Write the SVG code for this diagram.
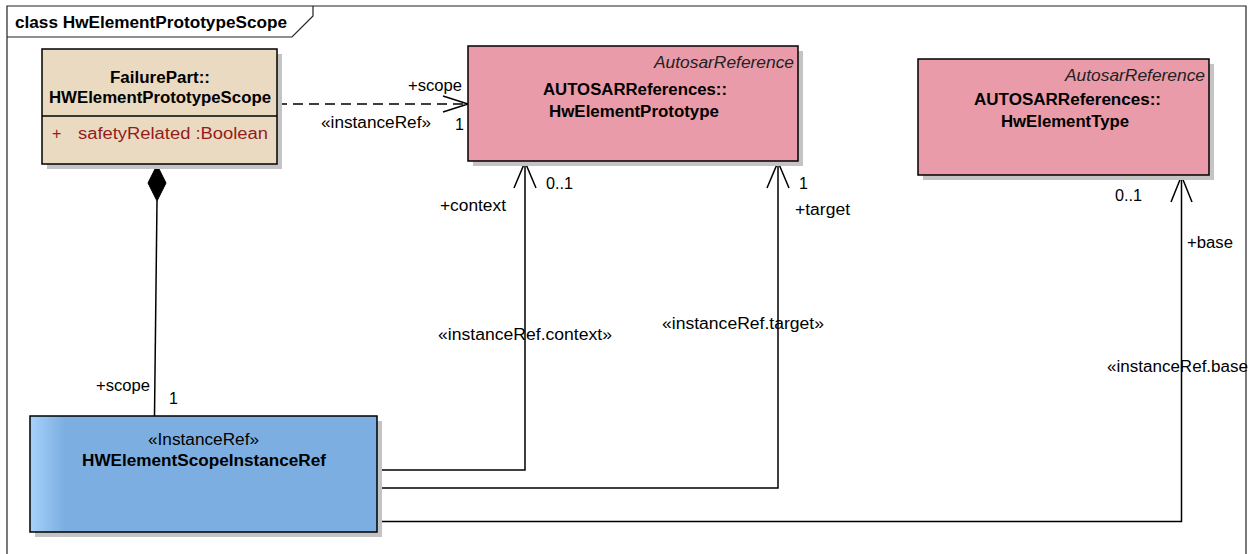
<svg xmlns="http://www.w3.org/2000/svg" width="1254" height="554" viewBox="0 0 1254 554">
<defs>
<style>
text{font-family:"Liberation Sans",Arial,sans-serif;font-size:16px;fill:#000}
.b{font-weight:bold}
.i{font-style:italic;fill:#222}
.attr{fill:#951c1c}
.box{stroke:#000;stroke-width:1.5}
.sh{fill:#c4c4c4}
.ln{fill:none;stroke:#000;stroke-width:1.5}
.frame{fill:none;stroke:#222;stroke-width:1.2}
</style>
<linearGradient id="blueG" x1="0" y1="0" x2="1" y2="0">
<stop offset="0" stop-color="#a6d2fb"/>
<stop offset="0.1" stop-color="#7caee1"/>
<stop offset="1" stop-color="#7caee1"/>
</linearGradient>
</defs>
<rect width="1254" height="554" fill="#fff"/>
<g id="frame">
<path class="frame" d="M7,560 V6 H1246 V560"/>
<path class="frame" d="M7,37 H292 L313,16 V6"/>
<text class="b" x="15" y="28" textLength="272" lengthAdjust="spacingAndGlyphs">class HwElementPrototypeScope</text>
</g>
<g id="connectors">
<line class="ln" x1="277" y1="104" x2="467" y2="104" stroke-dasharray="10,6"/>
<polyline class="ln" points="443,96 468,104 443,112"/>
<polygon points="157,165 148,183 157,201 166,183" fill="#000" stroke="#000"/>
<line class="ln" x1="157" y1="201" x2="154.5" y2="416"/>
<path class="ln" d="M377,470 H525 V162"/>
<polyline class="ln" points="514,188 525,162 536,188"/>
<path class="ln" d="M377,488 H778 V162"/>
<polyline class="ln" points="767,188 778,162 789,188"/>
<path class="ln" d="M377,521.5 H1181.5 V176"/>
<polyline class="ln" points="1171,202 1181.5,176 1192,202"/>
<text x="408" y="91" textLength="54" lengthAdjust="spacingAndGlyphs">+scope</text>
<text x="321" y="128" textLength="110" lengthAdjust="spacingAndGlyphs">«instanceRef»</text>
<text x="455" y="130">1</text>
<text x="546" y="189" textLength="27" lengthAdjust="spacingAndGlyphs">0..1</text>
<text x="440" y="211" textLength="66" lengthAdjust="spacingAndGlyphs">+context</text>
<text x="799" y="189">1</text>
<text x="795" y="215" textLength="55" lengthAdjust="spacingAndGlyphs">+target</text>
<text x="1115" y="201" textLength="27" lengthAdjust="spacingAndGlyphs">0..1</text>
<text x="1187" y="248" textLength="46" lengthAdjust="spacingAndGlyphs">+base</text>
<text x="438" y="340" textLength="174" lengthAdjust="spacingAndGlyphs">«instanceRef.context»</text>
<text x="662" y="329" textLength="162" lengthAdjust="spacingAndGlyphs">«instanceRef.target»</text>
<text x="1107" y="372" textLength="141" lengthAdjust="spacingAndGlyphs">«instanceRef.base</text>
<text x="96" y="391" textLength="54" lengthAdjust="spacingAndGlyphs">+scope</text>
<text x="169" y="404">1</text>
</g>
<g id="FailurePart">
<rect class="sh" x="47" y="54" width="235" height="115"/>
<rect class="box" x="42" y="49" width="235" height="115" fill="#e9dac1"/>
<line class="box" x1="42" y1="116" x2="277" y2="116"/>
<text class="b" x="110" y="83" textLength="100" lengthAdjust="spacingAndGlyphs">FailurePart::</text>
<text class="b" x="49" y="103" textLength="222" lengthAdjust="spacingAndGlyphs">HWElementPrototypeScope</text>
<text class="attr" x="52" y="139">+</text>
<text class="attr" x="78" y="139" textLength="190" lengthAdjust="spacingAndGlyphs">safetyRelated  :Boolean</text>
</g>
<g id="HwElementPrototype">
<rect class="sh" x="473" y="51" width="330" height="115"/>
<rect class="box" x="468" y="46" width="330" height="115" fill="#ea9ba9"/>
<text class="i" x="654" y="68" textLength="140" lengthAdjust="spacingAndGlyphs">AutosarReference</text>
<text class="b" x="543" y="95" textLength="184" lengthAdjust="spacingAndGlyphs">AUTOSARReferences::</text>
<text class="b" x="549" y="117" textLength="170" lengthAdjust="spacingAndGlyphs">HwElementPrototype</text>
</g>
<g id="HwElementType">
<rect class="sh" x="923" y="64" width="291" height="116"/>
<rect class="box" x="918" y="59" width="291" height="116" fill="#ea9ba9"/>
<text class="i" x="1065" y="81" textLength="140" lengthAdjust="spacingAndGlyphs">AutosarReference</text>
<text class="b" x="974" y="105" textLength="187" lengthAdjust="spacingAndGlyphs">AUTOSARReferences::</text>
<text class="b" x="1001" y="127" textLength="128" lengthAdjust="spacingAndGlyphs">HwElementType</text>
</g>
<g id="HWElementScopeInstanceRef">
<rect class="sh" x="35" y="421" width="347" height="116"/>
<rect class="box" x="30" y="416" width="347" height="116" fill="url(#blueG)"/>
<text x="148" y="445" textLength="111" lengthAdjust="spacingAndGlyphs">«InstanceRef»</text>
<text class="b" x="82" y="466" textLength="244" lengthAdjust="spacingAndGlyphs">HWElementScopeInstanceRef</text>
</g>
</svg>
